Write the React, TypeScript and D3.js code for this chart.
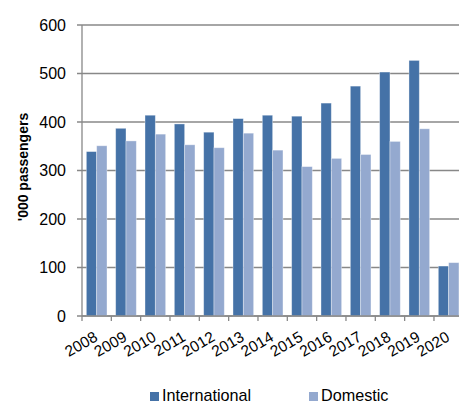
import React from "react";
import * as d3 from "d3";

const years = ["2008","2009","2010","2011","2012","2013","2014","2015","2016","2017","2018","2019","2020"];
const international = [339, 387, 414, 396, 379, 407, 414, 412, 439, 474, 503, 527, 103];
const domestic = [351, 361, 375, 353, 347, 377, 342, 308, 325, 333, 360, 386, 110];
const yTicks = [0, 100, 200, 300, 400, 500, 600];
const seriesNames = ["International", "Domestic"];
const colors = ["#4572A7", "#94A9CF"];

export default function App() {
  const W = 459, H = 405;
  const left = 82, right = 463.3, top = 25, bottom = 316;
  const x = d3.scaleBand().domain(years).range([left, right]).paddingInner(0).paddingOuter(0);
  const inner = d3.scaleBand().domain(seriesNames).range([0, x.bandwidth()]).paddingInner(0).paddingOuter(0.42);
  const y = d3.scaleLinear().domain([0, 600]).range([bottom, top]);
  const font = "Arial, 'Liberation Sans', sans-serif";
  const series = [international, domestic];

  return (
    <svg width={W} height={H} style={{ position: "absolute", left: 0, top: 0, background: "#fff" }}>
      {yTicks.map((t) => (
        <g key={t}>
          <line x1={left - 5} x2={right} y1={y(t)} y2={y(t)} stroke="#888888" strokeWidth={1.3} />
          <text x={left - 16} y={y(t)} dy="0.36em" textAnchor="end" fontFamily={font} fontSize={16} fill="#000">{t}</text>
        </g>
      ))}
      {years.map((yr, i) =>
        series.map((s, k) => {
          const bx = (x(yr) as number) + (inner(seriesNames[k]) as number);
          return (
            <rect key={yr + k} x={bx} y={y(s[i])} width={inner.bandwidth()} height={bottom - y(s[i])}
              fill={colors[k]} stroke="#ffffff" strokeOpacity={0.45} strokeWidth={0.8} />
          );
        })
      )}
      <line x1={left} x2={left} y1={top} y2={bottom} stroke="#888888" strokeWidth={1.3} />
      <line x1={left} x2={right} y1={bottom} y2={bottom} stroke="#888888" strokeWidth={1.3} />
      {years.map((yr) => (
        <line key={"t" + yr} x1={x(yr) as number} x2={x(yr) as number} y1={bottom} y2={bottom + 5} stroke="#888888" strokeWidth={1.3} />
      ))}
      <line x1={right} x2={right} y1={bottom} y2={bottom + 5} stroke="#888888" strokeWidth={1.3} />
      {years.map((yr) => {
        const cx = (x(yr) as number) + x.bandwidth() / 2 + 2;
        const cy = 340;
        return (
          <text key={"l" + yr} x={cx} y={cy} textAnchor="end" transform={`rotate(-30 ${cx} ${cy})`}
            fontFamily={font} fontSize={15.5} fill="#000">{yr}</text>
        );
      })}
      <text transform={`translate(28 167) rotate(-90)`} textAnchor="middle" fontFamily={font} fontSize={14} fontWeight="bold" fill="#000">'000 passengers</text>
      {seriesNames.map((n, k) => {
        const lx = k === 0 ? 150 : 309;
        return (
          <g key={n}>
            <rect x={lx} y={392} width={9} height={9} fill={colors[k]} />
            <text x={lx + 12} y={401} fontFamily={font} fontSize={16.2} fill="#000">{n}</text>
          </g>
        );
      })}
    </svg>
  );
}
